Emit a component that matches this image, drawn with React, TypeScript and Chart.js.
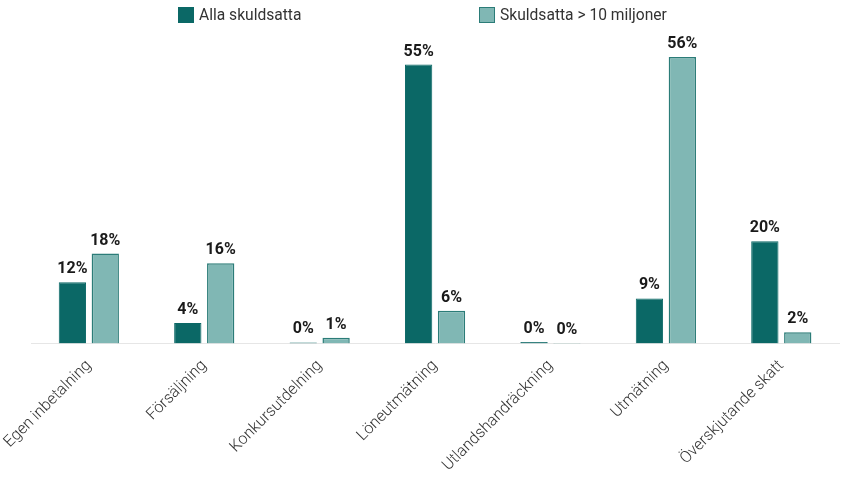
import React, { useEffect, useRef } from 'react';
import Chart from 'chart.js/auto';

const categories = [
  'Egen inbetalning',
  'Försäljning',
  'Konkursutdelning',
  'Löneutmätning',
  'Utlandshandräckning',
  'Utmätning',
  'Överskjutande skatt',
];
const allaSkuldsatta = [12.0, 4.0, 0.2, 54.6, 0.3, 8.8, 20.0];
const storaSkulder = [17.6, 15.7, 1.1, 6.4, 0.1, 56.1, 2.2];
const seriesNames = ['Alla skuldsatta', 'Skuldsatta > 10 miljoner'];

const DARK = '#0b6866';
const LIGHT = '#80b7b4';
const LIGHT_BORDER = '#2b7c78';

const valueLabels = {
  id: 'valueLabels',
  afterDatasetsDraw(chart: any) {
    const ctx = chart.ctx;
    ctx.save();
    ctx.font = 'bold 16px Roboto';
    ctx.fillStyle = '#1a1a1a';
    ctx.textAlign = 'center';
    ctx.textBaseline = 'bottom';
    chart.data.datasets.forEach((ds: any, i: number) => {
      chart.getDatasetMeta(i).data.forEach((bar: any, j: number) => {
        ctx.fillText(Math.round(ds.data[j]) + '%', bar.x, bar.y - 5);
      });
    });
    ctx.restore();
  },
};

const App: React.FC = () => {
  const canvasRef = useRef<HTMLCanvasElement>(null);
  const chartRef = useRef<Chart | null>(null);

  useEffect(() => {
    if (!canvasRef.current) return;
    const ctx = canvasRef.current.getContext('2d');
    if (!ctx) return;
    if (chartRef.current) chartRef.current.destroy();
    chartRef.current = new Chart(ctx, {
      type: 'bar',
      data: {
        labels: categories,
        datasets: [
          {
            label: seriesNames[0],
            data: allaSkuldsatta,
            backgroundColor: DARK,
            borderColor: DARK,
            borderWidth: 1,
            categoryPercentage: 0.57,
            barPercentage: 0.83,
          },
          {
            label: seriesNames[1],
            data: storaSkulder,
            backgroundColor: LIGHT,
            borderColor: LIGHT_BORDER,
            borderWidth: 1.5,
            categoryPercentage: 0.57,
            barPercentage: 0.83,
          },
        ],
      },
      options: {
        responsive: false,
        animation: false,
        layout: { padding: { top: 37, right: 10, bottom: 0, left: 0 } },
        plugins: {
          legend: { display: false },
          tooltip: { enabled: false },
        },
        scales: {
          x: {
            grid: { display: false, drawTicks: false },
            border: { display: true, color: '#e6e6e6', width: 1 },
            ticks: {
              minRotation: 45,
              maxRotation: 45,
              padding: 13,
              color: '#333',
              font: { family: 'Roboto', size: 16, weight: 300 },
            },
          },
          y: {
            display: false,
            min: 0,
            max: 60,
          },
        },
      },
      plugins: [valueLabels],
    });
    return () => {
      if (chartRef.current) chartRef.current.destroy();
      chartRef.current = null;
    };
  }, []);

  const legendItem = (left: number, name: string, fill: string, border: string) => (
    <div
      style={{
        position: 'absolute',
        left,
        top: 6,
        display: 'flex',
        alignItems: 'center',
        fontFamily: 'Roboto',
        fontSize: 15.6,
        color: '#333',
      }}
    >
      <span
        style={{
          display: 'inline-block',
          width: 14,
          height: 14,
          background: fill,
          border: `1.5px solid ${border}`,
          marginRight: 5,
        }}
      />
      {name}
    </div>
  );

  return (
    <div style={{ position: 'absolute', left: 0, top: 0, width: 849, height: 478, overflow: 'hidden', background: '#fff' }}>
      <canvas ref={canvasRef} width={855} height={488} style={{ position: 'absolute', left: -6, top: 0 }} />
      {legendItem(178, seriesNames[0], DARK, DARK)}
      {legendItem(479, seriesNames[1], LIGHT, LIGHT_BORDER)}
    </div>
  );
};

export default App;
